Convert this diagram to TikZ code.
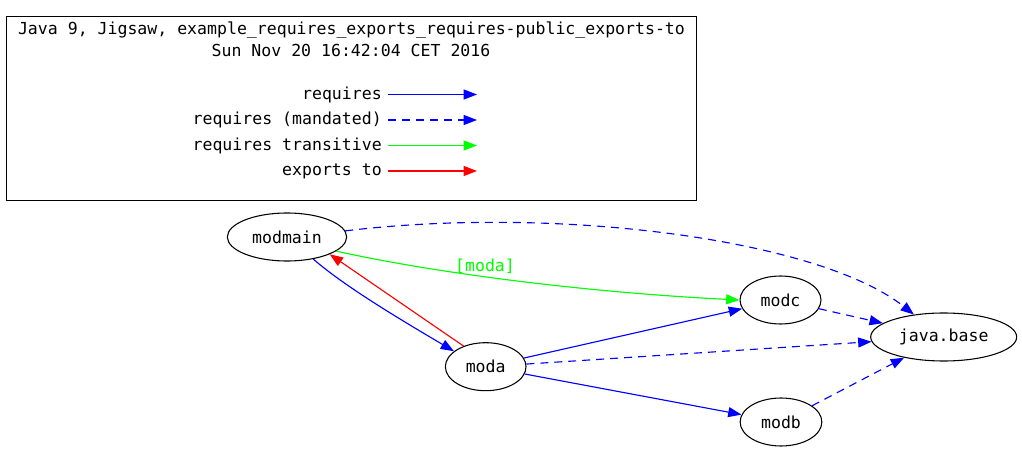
\documentclass[tikz,border=0pt]{standalone}
\usepackage{fontspec}
\setmainfont{DejaVu Sans Mono}
\usetikzlibrary{shapes.geometric,arrows.meta}
\definecolor{gvblue}{RGB}{0,0,255}
\definecolor{gvgreen}{RGB}{0,255,0}
\definecolor{gvred}{RGB}{255,0,0}
\begin{document}
\begin{tikzpicture}[x=0.75pt,y=-0.75pt,
  font=\fontsize{12.4}{14}\selectfont,
  tip/.style={-{Triangle[length=10pt,width=7.5pt]}},
  req/.style={tip,color=gvblue,line width=0.85pt},
  mand/.style={req,dash pattern=on 6pt off 4.5pt},
  trans/.style={tip,color=gvgreen,line width=0.85pt},
  expto/.style={tip,color=gvred,line width=0.85pt},
  mod/.style={ellipse,draw=black,line width=0.8pt,inner sep=0pt,minimum height=36pt},
  legtext/.style={anchor=east,inner sep=0pt}
]
\useasboundingbox (0,0) rectangle (1022,452);
% legend
\node[draw=black,line width=0.8pt,minimum width=517.5pt,minimum height=138pt,inner sep=0pt,anchor=north west] (legend) at (5.5,16) {};
\node (title1) at (351.5,30.5) {Java 9, Jigsaw, example\_requires\_exports\_requires-public\_exports-to};
\node (title2) at (351,50.5) {Sun Nov 20 16:42:04 CET 2016};
\node[legtext] (l1) at (382,94.5) {requires};
\node[legtext] (l2) at (382,120) {requires (mandated)};
\node[legtext] (l3) at (382,145.5) {requires transitive};
\node[legtext] (l4) at (382,171) {exports to};
\coordinate (l1s) at (388,94.5); \coordinate (l1e) at (477,94.5);
\coordinate (l2s) at (388,120); \coordinate (l2e) at (477,120);
\coordinate (l3s) at (388,145.5); \coordinate (l3e) at (477,145.5);
\coordinate (l4s) at (388,171); \coordinate (l4e) at (477,171);
\draw[req] (l1s) -- (l1e);
\draw[mand] (l2s) -- (l2e);
\draw[trans] (l3s) -- (l3e);
\draw[expto] (l4s) -- (l4e);
% modules
\node[mod,minimum width=89.5pt] (modmain) at (287,237) {modmain};
\node[mod,minimum width=60.5pt] (moda) at (485.7,366.7) {moda};
\node[mod,minimum width=60.75pt] (modc) at (780.5,300) {modc};
\node[mod,minimum width=61.3pt] (modb) at (781,422) {modb};
\node[mod,minimum width=109.5pt] (javabase) at (943.7,337) {java.base};
% edges
\draw[mand] (modmain.6) .. controls (560,205) and (820,240) .. (javabase.143);
\draw[trans] (modmain.-16) .. controls (430,272) and (580,292) .. (modc.180);
\node[text=gvgreen] (lbl) at (485,266) {[moda]};
\draw[req] (modmain.-40) .. controls (345,287) and (408,324) .. (moda.154);
\draw[expto] (moda.137) -- (modmain.-22);
\draw[req] (moda) -- (modc);
\draw[mand] (moda) -- (javabase);
\draw[req] (moda) -- (modb);
\draw[mand] (modc) -- (javabase);
\draw[mand] (modb) -- (javabase);
\end{tikzpicture}
\end{document}
